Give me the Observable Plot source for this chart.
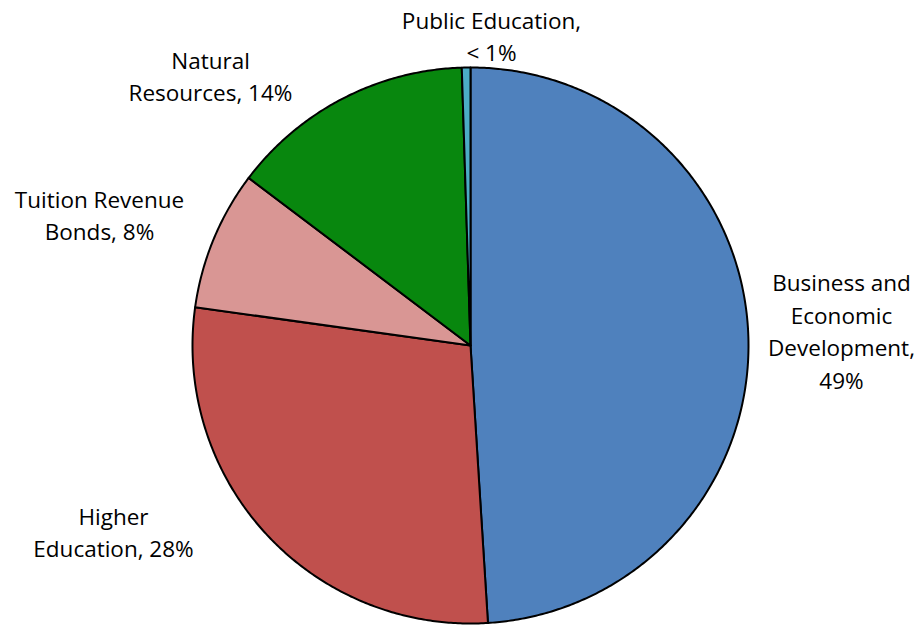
<!DOCTYPE html>
<html><head><meta charset="utf-8">
<script src="https://cdn.jsdelivr.net/npm/d3@7"></script>
<script src="https://cdn.jsdelivr.net/npm/@observablehq/plot@0.6"></script>
<style>body{margin:0;background:#fff}</style>
</head><body><div id="chart"></div>
<script>
const categories = ["Business and Economic Development", "Higher Education", "Tuition Revenue Bonds", "Natural Resources", "Public Education"];
const shares = [49.0, 28.2, 8.1, 14.2, 0.5];
const labels = ["Business and\nEconomic\nDevelopment,\n49%", "Higher\nEducation, 28%", "Tuition Revenue\nBonds, 8%", "Natural\nResources, 14%", "Public Education,\n< 1%"];
const colors = ["#4F81BD", "#C0504D", "#D99694", "#08870E", "#4BACC6"];

const W = 919, H = 625, cx = 470, cy = 345, R = 278;
const arcs = d3.pie().sort(null).value(d => d)(shares);
const pts = [];
arcs.forEach((a, i) => {
  const n = Math.max(2, Math.ceil((a.endAngle - a.startAngle) * 120));
  pts.push({cat: categories[i], x: cx, y: cy});
  for (let k = 0; k <= n; k++) {
    const t = a.startAngle + (a.endAngle - a.startAngle) * k / n;
    pts.push({cat: categories[i], x: cx + R * Math.sin(t), y: cy - R * Math.cos(t)});
  }
  pts.push({cat: categories[i], x: cx, y: cy});
});
const labelPos = [[841, 329], [113, 530], [99, 213], [210, 74], [491, 34]];
const labelData = labels.map((t, i) => ({text: t, x: labelPos[i][0], y: labelPos[i][1]}));

const chart = Plot.plot({
  width: W, height: H, margin: 0,
  x: {domain: [0, W], range: [0, W], axis: null},
  y: {domain: [0, H], range: [0, H], axis: null},
  color: {domain: categories, range: colors},
  style: {fontFamily: "'Open Sans', sans-serif"},
  marks: [
    Plot.line(pts, {x: "x", y: "y", z: "cat", fill: "cat", stroke: "#000", strokeWidth: 2, strokeLinejoin: "round"}),
    Plot.text(labelData, {x: "x", y: "y", text: "text", fontSize: 22.5, fill: "#000", lineHeight: 1.46, lineAnchor: "middle"})
  ]
});
document.getElementById("chart").appendChild(chart);
</script></body></html>
